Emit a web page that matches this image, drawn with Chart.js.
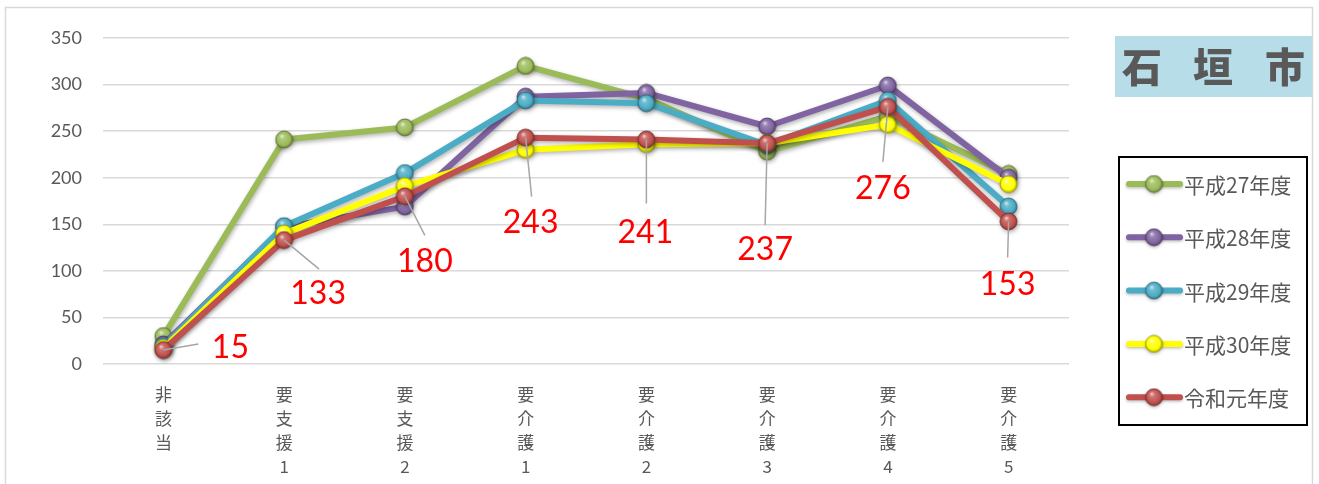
<!DOCTYPE html>
<html><head><meta charset="utf-8">
<script src="https://cdn.jsdelivr.net/npm/chart.js@4"></script>
<style>html,body{margin:0;padding:0;background:#fff;}#wrap{width:1319px;height:484px;position:relative;}</style>
</head><body><div id="wrap"><canvas id="c" width="1319" height="484"></canvas></div>
<script>
// ---- data ----
const categories = [["非","該","当"],["要","支","援","1"],["要","支","援","2"],["要","介","護","1"],["要","介","護","2"],["要","介","護","3"],["要","介","護","4"],["要","介","護","5"]];
const seriesNames = ["平成27年度","平成28年度","平成29年度","平成30年度","令和元年度"];
const h27 = [30, 241, 254, 320, 285, 228, 266, 204];
const h28 = [21, 147, 169, 287, 291, 255, 299, 200];
const h29 = [19, 148, 205, 283, 280, 235, 283, 169];
const h30 = [17, 140, 191, 230, 236, 237, 257, 193];
const r01 = [15, 133, 180, 243, 241, 237, 276, 153];
const yTicks = [0, 50, 100, 150, 200, 250, 300, 350];
const titleChars = ["石", "垣", "市"];

// ---- styles ----
const seriesColors = ["#9bbb59", "#8064a2", "#4bacc6", "#ffff00", "#c0504d"];
const seriesData = [h27, h28, h29, h30, r01];
// label placement for the labelled series (offsets from its point): label centre, leader end
const labelDx = [67, 34, 20, 5, -1, -2, -5, -1];
const labelDy = [-3, 53, 64, 84, 92, 105, 81, 62];
const leadDx = [35, 35, 20, 6, 0, -2, -5, -1];
const leadDy = [-6, 29, 39, 59, 64, 82, 55, 36];

function hexRgb(h){h=h.replace('#','');return [parseInt(h.substr(0,2),16),parseInt(h.substr(2,2),16),parseInt(h.substr(4,2),16)];}
function mix(c,t,a){return 'rgb('+c.map((v,i)=>Math.round(v+(t[i]-v)*a)).join(',')+')';}
function sphere(color, r){
  const s = Math.ceil(2*r+2);
  const cv = document.createElement('canvas'); cv.width = s; cv.height = s;
  const g = cv.getContext('2d');
  const c = s/2; const rgb = hexRgb(color);
  const grad = g.createRadialGradient(c - r*0.3, c - r*0.45, 0, c, c, r*1.05);
  grad.addColorStop(0, mix(rgb,[255,255,255],0.8));
  grad.addColorStop(0.3, mix(rgb,[255,255,255],0.2));
  grad.addColorStop(0.75, color);
  grad.addColorStop(1, mix(rgb,[0,0,0],0.4));
  g.beginPath(); g.arc(c, c, r, 0, Math.PI*2); g.fillStyle = grad; g.fill();
  g.lineWidth = 0.8; g.strokeStyle = mix(rgb,[0,0,0],0.4); g.stroke();
  return cv;
}
const spheres = seriesColors.map(c => sphere(c, 8.5));

const datasets = seriesNames.map((n, i) => ({
  label: n, data: seriesData[i], borderColor: seriesColors[i], backgroundColor: seriesColors[i],
  borderWidth: 6, tension: 0, pointStyle: spheres[i], pointRadius: 9, pointHoverRadius: 9,
  order: seriesNames.length - i, fill: false, borderJoinStyle: 'round', borderCapStyle: 'round'
}));

const bgPlugin = {
  id: 'bg',
  beforeDraw(chart){
    const ctx = chart.ctx; ctx.save();
    ctx.fillStyle = '#fff'; ctx.fillRect(0,0,chart.width,chart.height);
    ctx.strokeStyle = '#d9d9d9'; ctx.lineWidth = 1.5;
    ctx.strokeRect(5.5, 7.5, 1307, 490);
    ctx.restore();
  }
};
const shadowPlugin = {
  id: 'shadow',
  beforeDatasetDraw(chart){ const ctx = chart.ctx; ctx.save(); ctx.shadowColor='rgba(0,0,0,0.3)'; ctx.shadowBlur=4; ctx.shadowOffsetX=1; ctx.shadowOffsetY=2; },
  afterDatasetDraw(chart){ chart.ctx.restore(); }
};
const labelPlugin = {
  id: 'labels',
  afterDatasetsDraw(chart){
    const ctx = chart.ctx; const idx = seriesNames.length - 1;
    const meta = chart.getDatasetMeta(idx);
    ctx.save();
    meta.data.forEach((p, i) => {
      ctx.strokeStyle = '#a6a6a6'; ctx.lineWidth = 1.5;
      ctx.beginPath(); ctx.moveTo(p.x, p.y); ctx.lineTo(p.x + leadDx[i], p.y + leadDy[i]); ctx.stroke();
      ctx.fillStyle = '#ff0000'; ctx.font = '32px Lato'; ctx.textAlign = 'center'; ctx.textBaseline = 'middle';
      ctx.fillText(String(r01[i]), p.x + labelDx[i], p.y + labelDy[i] + 1);
    });
    ctx.restore();
  }
};
const sidePlugin = {
  id: 'side',
  afterDraw(chart){
    const ctx = chart.ctx; ctx.save();
    // title box
    ctx.fillStyle = '#b7dde8'; ctx.fillRect(1115, 36, 197, 61);
    ctx.fillStyle = '#595959'; ctx.font = '900 40px "Noto Sans CJK JP"'; ctx.textAlign = 'center'; ctx.textBaseline = 'middle';
    const cx = [1142, 1213, 1285];
    titleChars.forEach((ch, i) => ctx.fillText(ch, cx[i], 67));
    // legend box
    ctx.strokeStyle = '#000'; ctx.lineWidth = 2; ctx.strokeRect(1119, 157, 188, 268);
    seriesNames.forEach((n, i) => {
      const y = 184 + i * 53.3;
      ctx.save();
      ctx.shadowColor='rgba(0,0,0,0.25)'; ctx.shadowBlur=3; ctx.shadowOffsetY=1.5;
      ctx.strokeStyle = seriesColors[i]; ctx.lineWidth = 6; ctx.lineCap = 'round';
      ctx.beginPath(); ctx.moveTo(1129, y); ctx.lineTo(1180, y); ctx.stroke();
      ctx.drawImage(spheres[i], 1154 - spheres[i].width/2, y - spheres[i].height/2);
      ctx.restore();
      ctx.fillStyle = '#595959'; ctx.font = '21px "Noto Sans CJK JP"'; ctx.textAlign = 'left'; ctx.textBaseline = 'middle';
      ctx.fillText(n, 1184, y + 1);
    });
    ctx.restore();
  }
};

new Chart(document.getElementById('c'), {
  type: 'line',
  data: { labels: categories, datasets },
  options: {
    responsive: false, animation: false, devicePixelRatio: 1,
    layout: { padding: { left: 0, right: 250, top: 38, bottom: 0 } },
    plugins: { legend: { display: false }, tooltip: { enabled: false } },
    scales: {
      x: {
        offset: true,
        grid: { display: false, drawTicks: false },
        border: { display: false },
        ticks: { color: '#595959', font: { family: '"Noto Sans CJK JP"', size: 17, lineHeight: 1.42 }, padding: 18, maxRotation: 0, autoSkip: false },
        afterFit(s){ s.height = 120; }
      },
      y: {
        min: 0, max: 350,
        afterBuildTicks(s){ s.ticks = yTicks.map(v => ({ value: v })); },
        grid: { color: '#d9d9d9', lineWidth: 1.5, drawTicks: false },
        border: { display: false },
        ticks: { color: '#595959', font: { family: 'Lato', size: 18 }, padding: 21 },
        afterFit(s){ s.width = 103; }
      }
    }
  },
  plugins: [bgPlugin, shadowPlugin, labelPlugin, sidePlugin]
});
</script>
</body></html>
